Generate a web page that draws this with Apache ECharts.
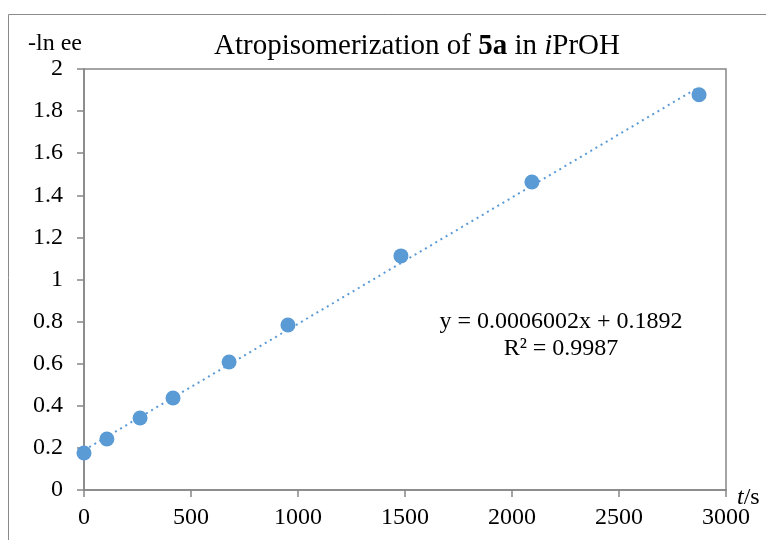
<!DOCTYPE html>
<html><head><meta charset="utf-8">
<script src="https://cdn.jsdelivr.net/npm/echarts@6/dist/echarts.min.js"></script>
<style>html,body{margin:0;padding:0;background:#fff}#c{width:766px;height:540px}</style>
</head><body><div id="c"></div>
<script>
const timeS = [0, 107, 262, 416, 678, 953, 1481, 2093, 2874];
const lnEE = [0.176, 0.242, 0.342, 0.437, 0.608, 0.784, 1.112, 1.463, 1.878];
const slope = 0.0006002, intercept = 0.1892;
const fitText = ['y = 0.0006002x + 0.1892', 'R² = 0.9987'];

const font = 'Liberation Serif, Times New Roman, serif';
const chart = echarts.init(document.getElementById('c'), null, {renderer: 'canvas'});
const xMax = Math.max(...timeS);
chart.setOption({
  animation: false,
  textStyle: {fontFamily: font},
  title: {
    text: 'Atropisomerization of {b|5a} in {i|i}PrOH',
    left: 412, top: 27, textAlign: 'center',
    textStyle: {fontFamily: font, fontSize: 29, fontWeight: 'normal', color: '#000',
      rich: {b: {fontFamily: font, fontSize: 29, fontWeight: 'bold', color: '#000'},
             i: {fontFamily: font, fontSize: 29, fontStyle: 'italic', color: '#000'}}}
  },
  grid: {left: 84, top: 69, width: 642, height: 421, show: true, borderColor: '#868686', borderWidth: 1.5,
         containLabel: false, outerBoundsMode: 'none'},
  xAxis: {
    type: 'value', min: 0, max: 3000, interval: 500,
    axisLine: {show: true, lineStyle: {color: '#868686', width: 1.5}},
    axisTick: {show: true, length: 7, lineStyle: {color: '#868686', width: 1.5}},
    splitLine: {show: false},
    axisLabel: {fontFamily: font, fontSize: 24, color: '#000', margin: 16, formatter: v => String(v)}
  },
  yAxis: {
    type: 'value', min: 0, max: 2, interval: 0.2,
    axisLine: {show: true, lineStyle: {color: '#868686', width: 1.5}},
    axisTick: {show: true, length: 7, lineStyle: {color: '#868686', width: 1.5}},
    splitLine: {show: false},
    axisLabel: {fontFamily: font, fontSize: 24, color: '#000', margin: 21, formatter: v => String(+v.toFixed(1))},
    name: '-ln ee', nameGap: 25, nameLocation: 'end',
    nameTextStyle: {fontFamily: font, fontSize: 24, color: '#000', align: 'right', verticalAlign: 'middle', padding: [0, 2, 0, 0]}
  },
  graphic: [
    {type: 'rect', shape: {x: 8.5, y: 14.5, width: 800, height: 600}, style: {fill: 'none', stroke: '#8a8a8a', lineWidth: 1}, z: -1, silent: true},
    {type: 'text', x: 561, y: 308, style: {text: fitText.join('\n'), font: '24px ' + font, fill: '#000', align: 'center', verticalAlign: 'top', lineHeight: 27}},
    {type: 'text', x: 737, y: 486, style: {text: '{i|t}/s', font: '24px ' + font, fill: '#000', align: 'left', verticalAlign: 'top',
      rich: {i: {fontFamily: font, fontSize: 24, fontStyle: 'italic', fill: '#000'}}}}
  ],
  series: [
    {type: 'line', data: [[0, intercept], [xMax, intercept + slope * xMax]], showSymbol: false, symbol: 'none',
     lineStyle: {color: '#5B9BD5', width: 2, type: [2, 4]}, z: 1, silent: true},
    {type: 'scatter', data: timeS.map((t, i) => [t, lnEE[i]]), symbolSize: 15,
     itemStyle: {color: '#5B9BD5', opacity: 1}, z: 2}
  ]
});
</script></body></html>
